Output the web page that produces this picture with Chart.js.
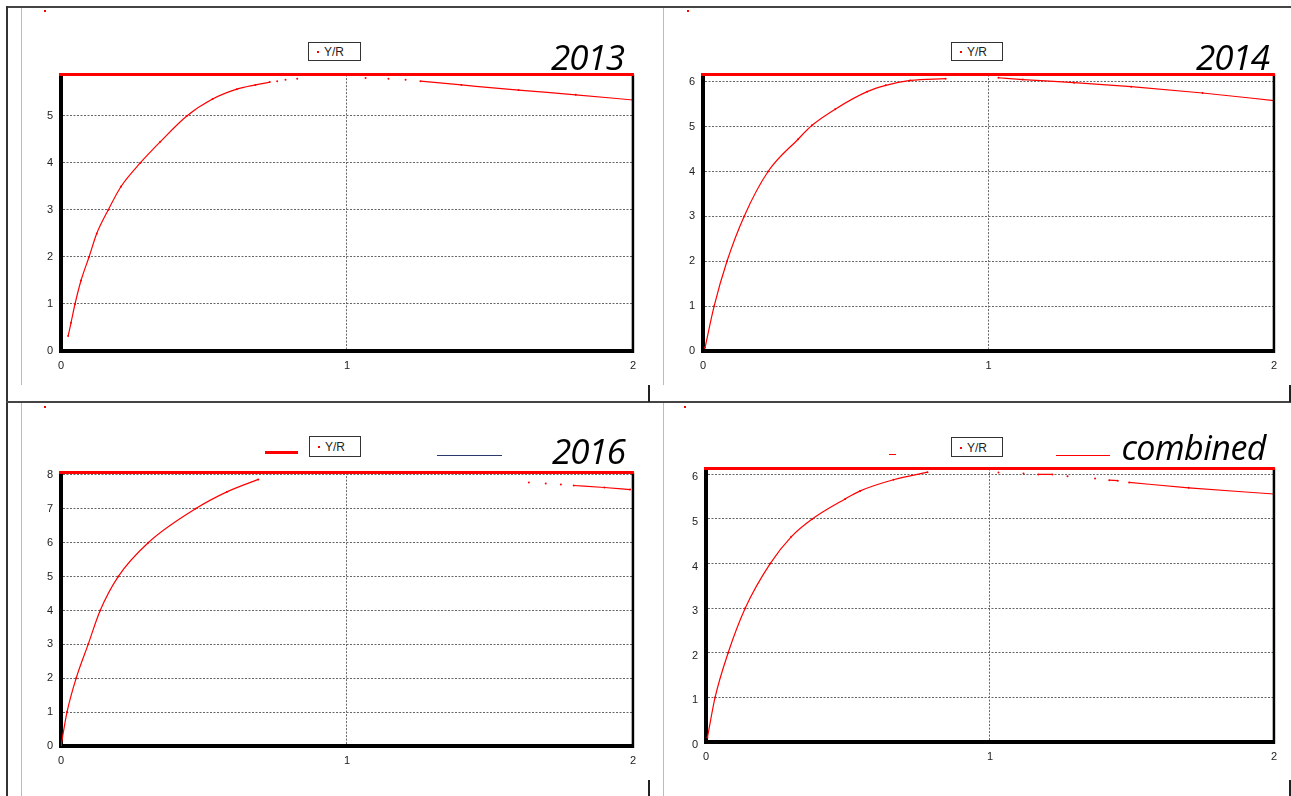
<!DOCTYPE html>
<html>
<head>
<meta charset="utf-8">
<script src="https://cdn.jsdelivr.net/npm/chart.js@4.4.1/dist/chart.umd.min.js"></script>
<style>
  html,body{margin:0;padding:0;background:#fff;}
  body{width:1291px;height:796px;position:relative;overflow:hidden;font-family:"Liberation Sans",Arial,sans-serif;}
  canvas{position:absolute;}
  .ln{position:absolute;}
  .legend{position:absolute;border:1.5px solid #333;box-sizing:border-box;background:#fff;font-size:12px;color:#222;z-index:5;}
  .legend .dot{position:absolute;width:2px;height:2px;background:#f00;}
  .legend .tx{position:absolute;top:2px;}
  .title{position:absolute;font-family:"Open Sans",sans-serif;font-style:italic;color:#000;z-index:5;white-space:nowrap;line-height:1;}
  .mark{position:absolute;width:2px;height:2px;background:#f00;}
</style>
</head>
<body>
<!-- frame -->
<div class="ln" style="left:6px;top:6px;width:1285px;height:2px;background:#444"></div>
<div class="ln" style="left:6px;top:6px;width:1.5px;height:790px;background:#333"></div>
<div class="ln" style="left:21px;top:8px;width:1px;height:377px;background:#bbb"></div>
<div class="ln" style="left:21px;top:403px;width:1px;height:393px;background:#bbb"></div>
<div class="ln" style="left:663px;top:8px;width:1px;height:377px;background:#bbb"></div>
<div class="ln" style="left:663px;top:403px;width:1px;height:393px;background:#bbb"></div>
<div class="ln" style="left:6px;top:401px;width:1285px;height:1.5px;background:#444"></div>
<div class="ln" style="left:648px;top:385px;width:1.5px;height:17px;background:#222"></div>
<div class="ln" style="left:648px;top:780px;width:1.5px;height:16px;background:#222"></div>
<div class="ln" style="left:1289px;top:385px;width:1.5px;height:17px;background:#222"></div>
<div class="ln" style="left:1289px;top:780px;width:1.5px;height:16px;background:#222"></div>
<div class="mark" style="left:44px;top:10px"></div>
<div class="mark" style="left:687px;top:10px"></div>
<div class="mark" style="left:44px;top:406px"></div>
<div class="mark" style="left:684px;top:406px"></div>

<canvas id="c1" width="624" height="320" style="left:20px;top:60px"></canvas>
<canvas id="c2" width="625" height="320" style="left:660px;top:60px"></canvas>
<canvas id="c3" width="624" height="318" style="left:20px;top:458px"></canvas>
<canvas id="c4" width="625" height="318" style="left:660px;top:454px"></canvas>

<!-- legends -->
<div class="legend" style="left:308px;top:42px;width:53px;height:19px"><div class="dot" style="left:8px;top:8px"></div><div class="tx" style="left:15px">Y/R</div></div>
<div class="legend" style="left:951px;top:42px;width:52px;height:19px"><div class="dot" style="left:8px;top:8px"></div><div class="tx" style="left:15px">Y/R</div></div>
<div class="legend" style="left:309px;top:436px;width:52px;height:21px"><div class="dot" style="left:8px;top:9px"></div><div class="tx" style="left:15px;top:3px">Y/R</div></div>
<div class="legend" style="left:951px;top:437px;width:52px;height:20px"><div class="dot" style="left:8px;top:9px"></div><div class="tx" style="left:15px;top:3px">Y/R</div></div>
<div class="ln" style="left:265px;top:451px;width:33px;height:2.5px;background:#f00"></div>
<div class="ln" style="left:437px;top:455px;width:65px;height:1px;background:#2a3a6a"></div>
<div class="ln" style="left:889px;top:454px;width:7px;height:1px;background:#f00"></div>
<div class="ln" style="left:1056px;top:455px;width:54px;height:1px;background:#f00"></div>

<!-- titles -->
<div class="title" style="right:667px;top:39px;font-size:35px;letter-spacing:-1px">2013</div>
<div class="title" style="right:22px;top:39px;font-size:35px;letter-spacing:-1px">2014</div>
<div class="title" style="right:666px;top:433px;font-size:35px;letter-spacing:-1px">2016</div>
<div class="title" style="right:25px;top:430px;font-size:34px;letter-spacing:-0.5px">combined</div>

<script>
// ---- data (F = fishing mortality, Y/R = yield per recruit); null = gap in drawn curve
const xTicks = [0, 1, 2];

const f2013 = [0.025,0.035,0.049,0.07,0.098,0.125,0.165,0.21,0.277,0.347,0.44,0.53,0.615,0.68,0.73,null,0.756,null,0.785,null,0.826,null,1.065,null,1.145,null,1.205,null,1.257,1.4,1.6,1.8,2.0];
const y2013 = [0.32,0.6,1.0,1.5,2.0,2.5,3.0,3.5,4.0,4.45,5.0,5.36,5.57,5.66,5.72,null,5.74,null,5.77,null,5.79,null,5.81,null,5.79,null,5.77,null,5.74,5.66,5.55,5.45,5.34];
const yMax2013 = 5.88;

const f2014 = [0.007,0.039,0.084,0.144,0.228,0.333,0.382,0.463,0.575,0.64,0.726,0.85,null,1.035,1.12,1.3,1.5,1.75,2.0];
const y2014 = [0.07,1.0,2.0,3.0,4.0,4.72,5.03,5.39,5.78,5.92,6.03,6.07,null,6.09,6.05,5.98,5.89,5.75,5.58];
const yMax2014 = 6.16;

const f2016 = [0.0,0.021,0.053,0.095,0.137,0.2,0.305,0.47,0.58,0.69,null,1.15,null,1.636,null,1.695,null,1.748,null,1.793,1.9,1.99];
const y2016 = [0.0,1.0,2.0,3.0,4.0,5.0,6.0,7.0,7.5,7.87,null,8.04,null,7.78,null,7.75,null,7.72,null,7.69,7.63,7.57];
const yMax2016 = 8.07;

const fComb = [0.005,0.032,0.078,0.138,0.226,0.3,0.374,0.49,0.543,0.66,0.78,null,1.03,null,1.118,null,1.17,1.22,null,1.273,null,1.37,null,1.42,1.45,null,1.49,1.7,2.0];
const yComb = [0.1,1.0,2.0,3.0,4.0,4.6,5.0,5.45,5.63,5.88,6.05,null,6.04,null,6.02,null,6.0,6.0,null,5.96,null,5.91,null,5.87,5.86,null,5.82,5.7,5.56];
const yMaxComb = 6.13;

const seriesLabel = 'Y/R';

function pts(fs, ys){ return fs.map((f,i)=>({x: f, y: ys[i]})); }

const frame = {
  id:'frame',
  afterDraw(chart){
    const {ctx, chartArea:a} = chart;
    ctx.save();
    ctx.strokeStyle = '#000'; ctx.lineWidth = 2.5;
    ctx.beginPath(); ctx.moveTo(a.right, a.top); ctx.lineTo(a.right, a.bottom+2); ctx.stroke();
    ctx.strokeStyle = '#f00'; ctx.lineWidth = 3;
    ctx.beginPath(); ctx.moveTo(a.left-2, a.top); ctx.lineTo(a.right+1, a.top); ctx.stroke();
    ctx.restore();
  }
};

function makeChart(id, fs, ys, yMax, yW, xH, padR, yLabelOff){
  new Chart(document.getElementById(id), {
    type:'scatter',
    data:{datasets:[{
      label: seriesLabel,
      data: pts(fs, ys),
      showLine:true, spanGaps:false,
      borderColor:'#f00', backgroundColor:'#f00',
      borderWidth:1.2, pointRadius:1, pointBorderWidth:0, pointHoverRadius:0,
      cubicInterpolationMode:'monotone'
    }]},
    options:{
      responsive:false, animation:false, events:[],
      layout:{padding:{top:12,right:padR,left:0,bottom:0}},
      plugins:{legend:{display:false}, tooltip:{enabled:false}},
      scales:{
        x:{type:'linear', min:0, max:2,
          afterBuildTicks(s){ s.ticks = xTicks.map(v=>({value:v})); },
          afterFit(s){ s.height = xH; },
          ticks:{font:{family:'Liberation Sans', size:11}, color:'#222', padding:8, maxRotation:0},
          grid:{drawTicks:false, color:(c)=> (c.tick && c.tick.value===1) ? '#666' : 'rgba(0,0,0,0)', lineWidth:1},
          border:{display:true, color:'#000', width:4, dash:[2,1.5]}
        },
        y:{type:'linear', min:0, max:yMax,
          afterFit(s){ s.width = yW; },
          ticks:{stepSize:1, includeBounds:false, font:{family:'Liberation Sans', size:11}, color:'#222', padding:8, labelOffset:yLabelOff},
          grid:{drawTicks:false, color:(c)=> (c.tick && c.tick.value>0) ? '#666' : 'rgba(0,0,0,0)', lineWidth:1},
          border:{display:true, color:'#000', width:4, dash:[2,1.5]}
        }
      }
    },
    plugins:[frame]
  });
}

makeChart('c1', f2013, y2013, yMax2013, 41, 29, 4, 0);
makeChart('c2', f2014, y2014, yMax2014, 43, 29, 8, 0);
makeChart('c3', f2016, y2016, yMax2016, 41, 30, 4, 0);
makeChart('c4', fComb, yComb, yMaxComb, 46, 30, 8, 3);
</script>
</body>
</html>
